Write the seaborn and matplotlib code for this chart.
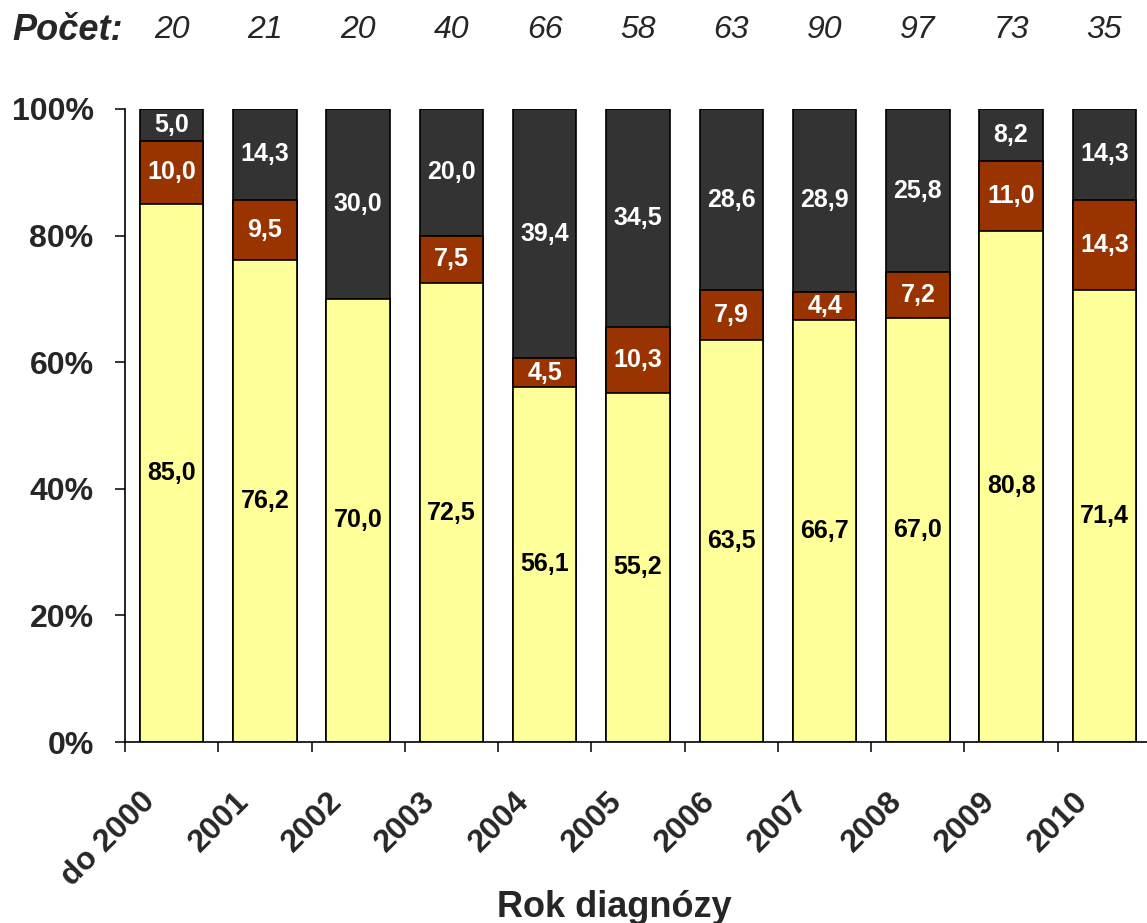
import matplotlib
matplotlib.use("Agg")
import matplotlib.pyplot as plt
import matplotlib.transforms as mtransforms
import numpy as np
import seaborn as sns

# ── data ─────────────────────────────────────────────────────
years   = ["do 2000", "2001", "2002", "2003", "2004", "2005",
           "2006", "2007", "2008", "2009", "2010"]
counts  = [20, 21, 20, 40, 66, 58, 63, 90, 97, 73, 35]
yellow  = [85.0, 76.2, 70.0, 72.5, 56.1, 55.2, 63.5, 66.7, 67.0, 80.8, 71.4]
brown   = [10.0, 9.5, 0.0, 7.5, 4.5, 10.3, 7.9, 4.4, 7.2, 11.0, 14.3]
gray    = [5.0, 14.3, 30.0, 20.0, 39.4, 34.5, 28.6, 28.9, 25.8, 8.2, 14.3]

C_YEL, C_BRN, C_GRY = "#FFFF99", "#993300", "#333333"

sns.set_style("ticks")
plt.rcParams["font.family"] = ["Liberation Sans", "DejaVu Sans"]

W, H = 1147, 923
fig = plt.figure(figsize=(W / 100, H / 100), dpi=100)
ax = fig.add_axes([125 / W, 1 - 742 / H, (1151 - 125) / W, (742 - 109) / H])

y_arr, b_arr, g_arr = map(np.array, (yellow, brown, gray))
lvl1 = y_arr
lvl2 = y_arr + b_arr
lvl3 = y_arr + b_arr + g_arr

# stacked bars drawn back-to-front (cumulative heights)
kw = dict(edgecolor="black", linewidth=1.2, width=0.68, saturation=1,
          errorbar=None, ax=ax)
sns.barplot(x=years, y=lvl3, color=C_GRY, **kw)
sns.barplot(x=years, y=lvl2, color=C_BRN, **kw)
sns.barplot(x=years, y=lvl1, color=C_YEL, **kw)

# value labels
fmt = lambda v: f"{v:.1f}".replace(".", ",")
lab = dict(ha="center", va="center", fontsize=18, fontweight="bold")
for i in range(len(years)):
    ax.text(i, lvl1[i] / 2, fmt(yellow[i]), color="black", **lab)
    if brown[i] > 0:
        ax.text(i, lvl1[i] + brown[i] / 2, fmt(brown[i]), color="white", **lab)
    ax.text(i, lvl2[i] + gray[i] / 2, fmt(gray[i]), color="white", **lab)

# axes styling
ax.set_xlim(-0.5, len(years) - 0.5)
ax.set_ylim(0, 100)
ax.set_yticks(np.arange(0, 101, 20))
ax.set_yticklabels([f"{v}%" for v in range(0, 101, 20)],
                   fontsize=23, fontweight="bold")
ax.tick_params(axis="y", length=7.5, width=1.1, pad=15, color="black")
ax.set_xticks(np.arange(len(years)))
ax.set_xticklabels(years, rotation=45, ha="right", fontsize=23,
                   fontweight="bold")
ax.tick_params(axis="x", which="major", length=0, pad=32)
ax.set_xticks(np.arange(-0.5, len(years) - 0.4, 1), minor=True)
ax.tick_params(axis="x", which="minor", length=7.5, width=1.1, color="black")
shift = mtransforms.ScaledTranslation(-10 / 100, 0, fig.dpi_scale_trans)
for t in ax.get_xticklabels():
    t.set_transform(t.get_transform() + shift)
ax.set_xlabel("")
ax.set_ylabel("")
sns.despine(ax=ax)
for s in ("left", "bottom"):
    ax.spines[s].set_linewidth(1.2)
    ax.spines[s].set_color("black")

# "Počet" row
fig.text(12 / W, 1 - 30 / H, "Počet:", fontsize=26, fontweight="bold",
         fontstyle="italic", ha="left", va="center")
trans = mtransforms.blended_transform_factory(ax.transData, fig.transFigure)
for i, n in enumerate(counts):
    ax.text(i, 1 - 30 / H, str(n), transform=trans, fontsize=23,
            fontstyle="italic", ha="center", va="center", clip_on=False)

fig.text(614 / W, 1 - 917 / H, "Rok diagnózy", fontsize=26,
         fontweight="bold", ha="center", va="baseline")

fig.savefig("out.png", dpi=100)
plt.close(fig)
